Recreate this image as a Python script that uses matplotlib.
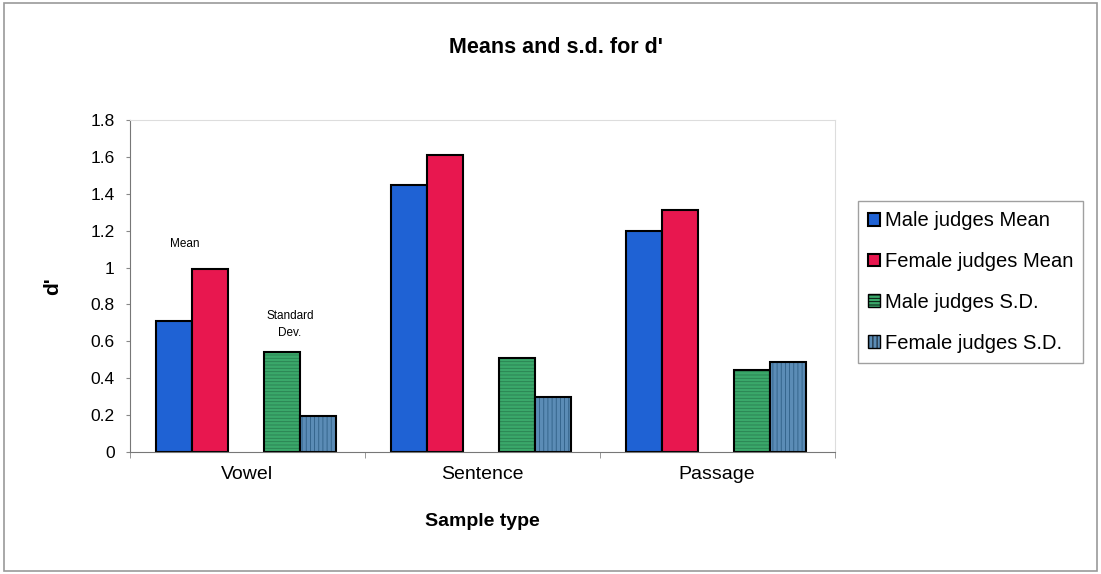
import matplotlib.pyplot as plt
import numpy as np
from matplotlib.patches import Rectangle

plt.rcParams['font.family'] = ['Liberation Sans', 'DejaVu Sans']
plt.rcParams['hatch.linewidth'] = 0.6

categories = ["Vowel", "Sentence", "Passage"]
series_names = ["Male judges Mean", "Female judges Mean", "Male judges S.D.", "Female judges S.D."]
male_mean = [0.71, 1.45, 1.20]
female_mean = [0.99, 1.61, 1.31]
male_sd = [0.54, 0.51, 0.445]
female_sd = [0.195, 0.30, 0.49]

colors = ["#1f62d4", "#e8174f", "#3aa86a", "#5b8cb6"]
hatch_colors = [None, None, "#2a7f50", "#2f5f86"]
hatches = [None, None, "-----", "||||"]
offsets = [-0.313, -0.16, 0.147, 0.30]
width = 0.153

fig = plt.figure(figsize=(11.01, 5.74), dpi=100)
ax = fig.add_axes([0.118, 0.2125, 0.640, 0.5785])

x = np.arange(len(categories))
for vals, name, color, hatch, hcol, off in zip(
    [male_mean, female_mean, male_sd, female_sd], series_names, colors, hatches,
    hatch_colors, offsets
):
    if hatch:
        # fill + fine hatch first, then the black outline on top
        ax.bar(x + off, vals, width, color=color, edgecolor=hcol, linewidth=0,
               hatch=hatch)
        ax.bar(x + off, vals, width, fill=False, edgecolor="black", linewidth=1.5)
        ax.bar([np.nan], [np.nan], color=color, edgecolor="black", hatch=hatch,
               linewidth=1.0, label=name)
    else:
        ax.bar(x + off, vals, width, color=color, edgecolor="black", linewidth=1.5,
               label=name)

ax.set_xlim(-0.5, 2.5)
ax.set_ylim(0, 1.8)
ax.set_yticks(np.arange(0, 1.81, 0.2))
ax.set_yticklabels(["0", "0.2", "0.4", "0.6", "0.8", "1", "1.2", "1.4", "1.6", "1.8"])
ax.set_xticks(x)
ax.set_xticklabels(categories, fontsize=14)
ax.set_xticks([-0.5, 0.5, 1.5, 2.5], minor=True)
ax.tick_params(axis="x", which="major", length=0, pad=10)
ax.tick_params(axis="x", which="minor", length=4, color="#888888")
ax.tick_params(axis="y", labelsize=12.5, length=3, color="#888888", pad=8)

for side in ["top", "right"]:
    ax.spines[side].set_color("#dddddd")
for side in ["left", "bottom"]:
    ax.spines[side].set_color("#777777")

ax.set_xlabel("Sample type", fontsize=14, fontweight="bold", labelpad=22)
ax.set_ylabel("d'", fontsize=15, fontweight="bold", labelpad=20)
fig.text(0.505, 0.918, "Means and s.d. for d'", ha="center", va="center",
         fontsize=15.5, fontweight="bold")

# small labels over the Vowel group
ax.text(x[0] + offsets[0] + 0.045, 1.13, "Mean", ha="center", va="center", fontsize=8.5)
ax.text(x[0] + offsets[2] + 0.035, 0.69, "Standard\nDev.", ha="center", va="center",
        fontsize=8.5, linespacing=1.6)

leg = ax.legend(loc="upper left", bbox_to_anchor=(1.033, 0.755), fontsize=14.5,
                frameon=True, fancybox=False, edgecolor="#888888",
                handlelength=0.6, handleheight=0.6, handletextpad=0.25,
                labelspacing=1.08, borderpad=0.5, borderaxespad=0)
leg.get_frame().set_linewidth(1.0)

fig.patches.append(Rectangle((0.004, 0.006), 0.992, 0.988, transform=fig.transFigure,
                             fill=False, edgecolor="#999999", linewidth=1.2))

fig.savefig("out.png", dpi=100)
